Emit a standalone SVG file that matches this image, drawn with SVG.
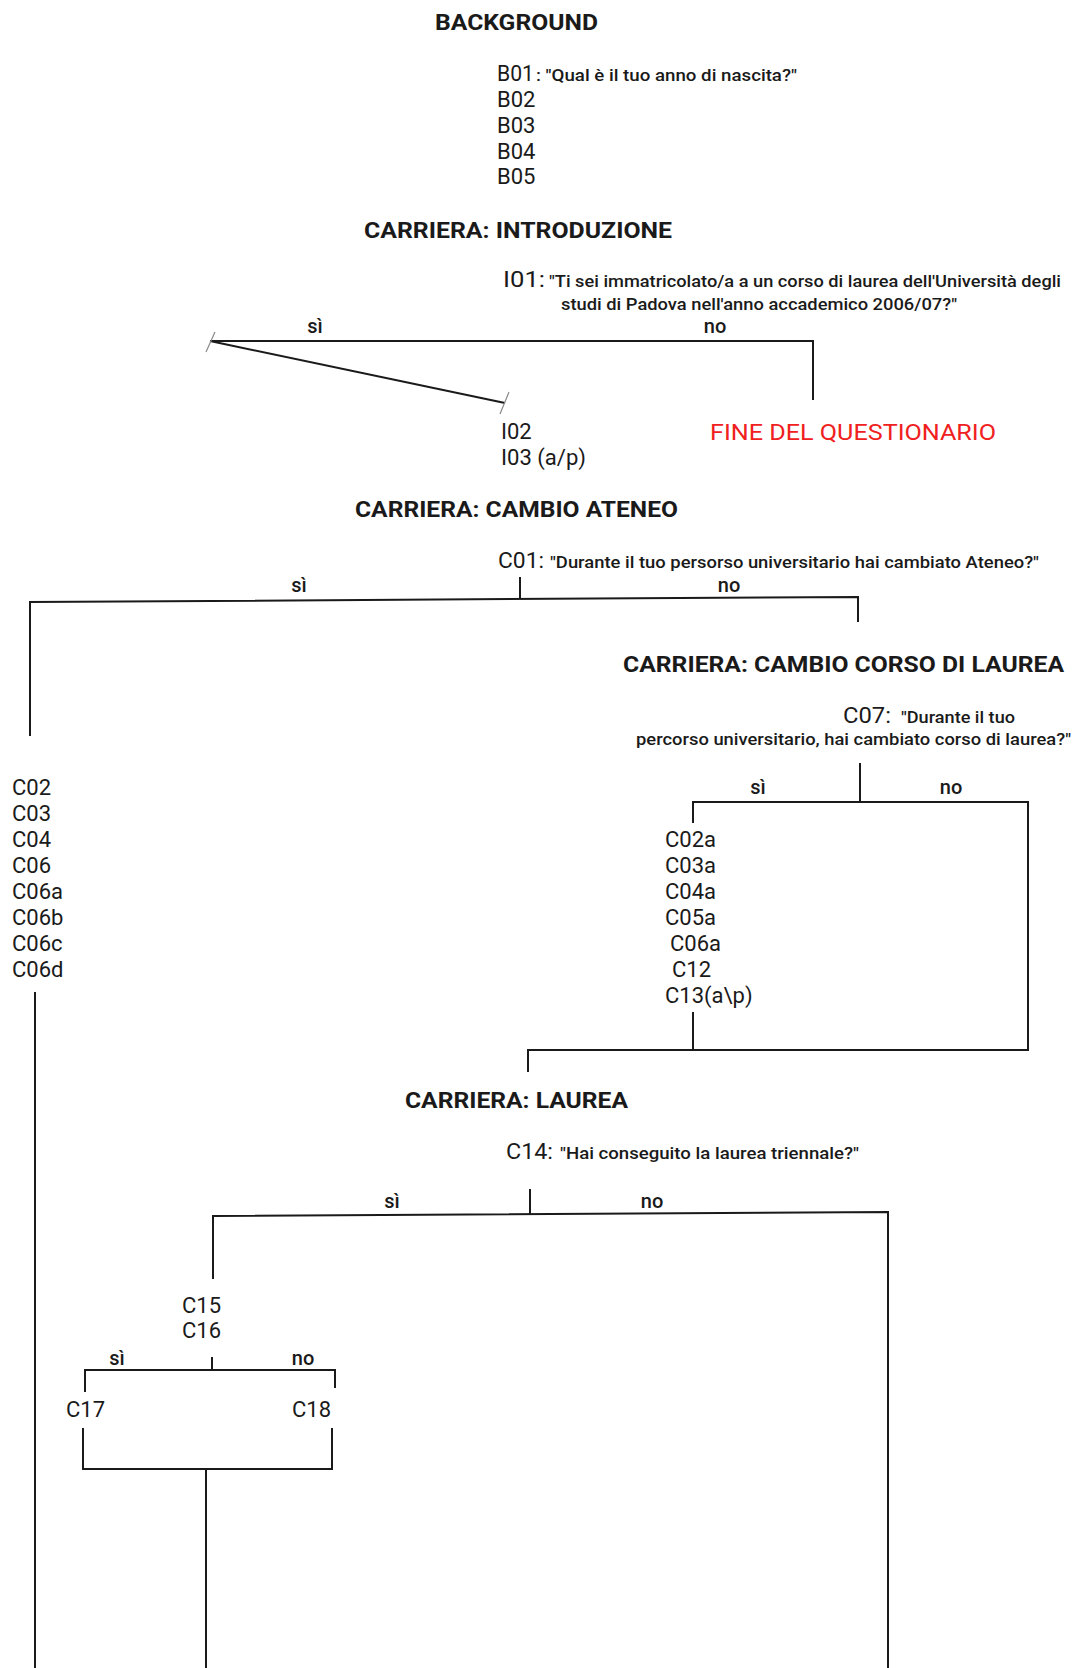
<svg xmlns="http://www.w3.org/2000/svg" width="1075" height="1668" viewBox="0 0 1075 1668">
<style>
text{font-family:Roboto,"Liberation Sans",sans-serif;fill:#1a1a1a}
.h{font-family:Roboto,"Liberation Sans",sans-serif;font-weight:bold;font-size:22px}
.c{font-size:22px}
.q{font-family:Roboto,"Liberation Sans",sans-serif;font-weight:500;font-size:16px}
.b{font-size:20px;font-weight:500;text-anchor:middle}
.red{fill:#f02020;font-size:22px}
.ln{stroke:#1a1a1a;stroke-width:2;fill:none}
.tk{stroke:#8a8a8a;stroke-width:1.2;fill:none}
</style>
<rect width="1075" height="1668" fill="#ffffff"/>
<g id="hdr-background"><text class="h" x="435" y="30" textLength="163" lengthAdjust="spacingAndGlyphs">BACKGROUND</text></g>
<g id="node-B">
<text class="c" x="497" y="81" textLength="37" lengthAdjust="spacingAndGlyphs">B01</text>
<text class="q" x="536" y="81" textLength="261" lengthAdjust="spacingAndGlyphs">: "Qual è il tuo anno di nascita?"</text>
<text class="c" x="497" y="107">B02</text>
<text class="c" x="497" y="133">B03</text>
<text class="c" x="497" y="159">B04</text>
<text class="c" x="497" y="184">B05</text>
</g>
<g id="hdr-intro"><text class="h" x="364" y="238" textLength="308" lengthAdjust="spacingAndGlyphs">CARRIERA: INTRODUZIONE</text></g>
<g id="node-I01">
<text class="c" x="503" y="287" textLength="42" lengthAdjust="spacingAndGlyphs">I01:</text>
<text class="q" x="549" y="287" textLength="512" lengthAdjust="spacingAndGlyphs">"Ti sei immatricolato/a a un corso di laurea dell'Università degli</text>
<text class="q" x="561" y="310" textLength="396" lengthAdjust="spacingAndGlyphs">studi di Padova nell'anno accademico 2006/07?"</text>
</g>
<g id="node-I02">
<text class="c" x="501" y="439">I02</text>
<text class="c" x="501" y="465" textLength="85" lengthAdjust="spacingAndGlyphs">I03 (a/p)</text>
</g>
<g id="node-fine"><text class="red" x="710" y="440" textLength="286" lengthAdjust="spacingAndGlyphs">FINE DEL QUESTIONARIO</text></g>
<g id="hdr-ateneo"><text class="h" x="355" y="517" textLength="323" lengthAdjust="spacingAndGlyphs">CARRIERA: CAMBIO ATENEO</text></g>
<g id="node-C01">
<text class="c" x="498" y="568" textLength="46" lengthAdjust="spacingAndGlyphs">C01:</text>
<text class="q" x="550" y="568" textLength="489" lengthAdjust="spacingAndGlyphs">"Durante il tuo persorso universitario hai cambiato Ateneo?"</text>
</g>
<g id="node-C02">
<text class="c" x="12" y="795">C02</text>
<text class="c" x="12" y="821">C03</text>
<text class="c" x="12" y="847">C04</text>
<text class="c" x="12" y="873">C06</text>
<text class="c" x="12" y="899">C06a</text>
<text class="c" x="12" y="925">C06b</text>
<text class="c" x="12" y="951">C06c</text>
<text class="c" x="12" y="977">C06d</text>
</g>
<g id="hdr-corso"><text class="h" x="623" y="672" textLength="441" lengthAdjust="spacingAndGlyphs">CARRIERA: CAMBIO CORSO DI LAUREA</text></g>
<g id="node-C07">
<text class="c" x="843" y="723" textLength="48" lengthAdjust="spacingAndGlyphs">C07:</text>
<text class="q" x="901" y="723" textLength="114" lengthAdjust="spacingAndGlyphs">"Durante il tuo</text>
<text class="q" x="636" y="745" textLength="435" lengthAdjust="spacingAndGlyphs">percorso universitario, hai cambiato corso di laurea?"</text>
</g>
<g id="node-C02a">
<text class="c" x="665" y="847">C02a</text>
<text class="c" x="665" y="873">C03a</text>
<text class="c" x="665" y="899">C04a</text>
<text class="c" x="665" y="925">C05a</text>
<text class="c" x="670" y="951">C06a</text>
<text class="c" x="672" y="977">C12</text>
<text class="c" x="665" y="1003">C13(a\p)</text>
</g>
<g id="hdr-laurea"><text class="h" x="405" y="1108" textLength="223" lengthAdjust="spacingAndGlyphs">CARRIERA: LAUREA</text></g>
<g id="node-C14">
<text class="c" x="506" y="1159" textLength="47" lengthAdjust="spacingAndGlyphs">C14:</text>
<text class="q" x="560" y="1159" textLength="299" lengthAdjust="spacingAndGlyphs">"Hai conseguito la laurea triennale?"</text>
</g>
<g id="node-C15">
<text class="c" x="182" y="1313">C15</text>
<text class="c" x="182" y="1338">C16</text>
</g>
<g id="node-C17"><text class="c" x="66" y="1417">C17</text></g>
<g id="node-C18"><text class="c" x="292" y="1417">C18</text></g>
<g id="connectors">
<path class="ln" d="M210 341H813V400"/>
<path class="ln" d="M210 341L505 403" stroke-width="2.5"/>
<path class="tk" d="M206 352L215 332M500 414L509 392"/>
<text class="b" x="315" y="333">sì</text>
<text class="b" x="715" y="333">no</text>
<path class="ln" d="M520 577V599M30 736V602L858 597V622"/>
<text class="b" x="299" y="592">sì</text>
<text class="b" x="729" y="592">no</text>
<path class="ln" d="M860 763V802M693 823V802H1028V1050H528V1072M693 1012V1050"/>
<text class="b" x="758" y="794">sì</text>
<text class="b" x="951" y="794">no</text>
<path class="ln" d="M35 992V1668"/>
<path class="ln" d="M530 1189V1214M213 1279V1216L888 1212V1668"/>
<text class="b" x="392" y="1208">sì</text>
<text class="b" x="652" y="1208">no</text>
<path class="ln" d="M212 1357V1370M85 1392V1370H335V1388M83 1428V1469H332V1428M206 1469V1668"/>
<text class="b" x="117" y="1365">sì</text>
<text class="b" x="303" y="1365">no</text>
</g>
</svg>
